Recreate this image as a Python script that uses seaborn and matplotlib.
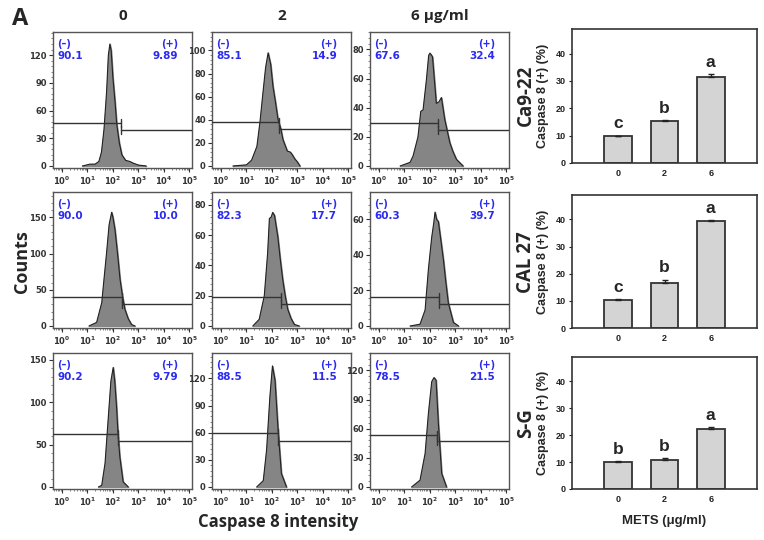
import numpy as np
import pandas as pd
import matplotlib
matplotlib.use("Agg")
import matplotlib.pyplot as plt
from matplotlib.ticker import FixedLocator, AutoMinorLocator
import seaborn as sns

sns.set_theme(style="white")
plt.rcParams['font.family'] = ['DejaVu Sans']

# ---------------- data ----------------
doses = ["0", "2", "6"]
col_titles = ["0", "2", "6 \u03bcg/ml"]
cell_lines = ["Ca9-22", "CAL 27", "S-G"]

# flow histograms: x = log10 intensity, y = counts
ca922_0_x = [0.8, 1.1, 1.3, 1.45, 1.55, 1.65, 1.75, 1.82, 1.88, 1.93, 2.0, 2.08, 2.15, 2.25, 2.35, 2.5, 2.65, 2.8, 3.0, 3.3]
ca922_0_y = [0, 2, 2, 5, 15, 40, 80, 120, 132, 125, 95, 70, 45, 25, 12, 6, 5, 3, 1, 0]
ca922_2_x = [0.47, 1.0, 1.2, 1.41, 1.53, 1.65, 1.75, 1.85, 1.95, 2.04, 2.14, 2.24, 2.35, 2.43, 2.6, 2.72, 2.79, 2.9, 2.98, 3.1]
ca922_2_y = [0, 1, 5, 17, 38, 64, 85, 98, 88, 69, 55, 40, 32, 23, 13, 12, 10, 6, 4, 0]
ca922_6_x = [0.83, 1.22, 1.34, 1.53, 1.64, 1.73, 1.86, 1.95, 2.0, 2.1, 2.25, 2.35, 2.45, 2.58, 2.78, 2.9, 3.04, 3.3]
ca922_6_y = [0, 2.5, 7, 20, 37.5, 38.6, 59, 76, 77.5, 75, 43, 44, 47, 32, 16, 10, 4.5, 0]

cal27_0_x = [1.06, 1.36, 1.56, 1.65, 1.75, 1.85, 1.95, 2.0, 2.08, 2.18, 2.28, 2.38, 2.47, 2.6, 2.73, 2.86]
cal27_0_y = [0, 5, 32, 65, 101, 140, 157, 150, 133, 100, 64, 40, 23, 10, 2, 0]
cal27_2_x = [1.25, 1.5, 1.7, 1.83, 1.9, 1.97, 2.03, 2.1, 2.23, 2.32, 2.42, 2.52, 2.62, 2.75, 2.88, 3.07]
cal27_2_y = [0, 4.4, 20, 48, 71, 72, 75, 73, 59, 45, 31, 20, 11, 5, 1, 0]
cal27_6_x = [1.22, 1.61, 1.81, 1.94, 2.07, 2.15, 2.2, 2.26, 2.33, 2.43, 2.53, 2.62, 2.72, 2.92, 3.12]
cal27_6_y = [0, 1, 9, 32, 50, 58, 64, 60, 58.7, 48, 37, 25, 13, 2, 0]

sg_0_x = [1.43, 1.56, 1.69, 1.82, 1.92, 2.01, 2.07, 2.14, 2.2, 2.27, 2.4, 2.6]
sg_0_y = [0, 2, 28, 83, 125, 141, 125, 95, 62, 35.5, 6, 0]
sg_2_x = [1.4, 1.66, 1.79, 1.92, 2.02, 2.12, 2.24, 2.37, 2.57]
sg_2_y = [0, 7, 41, 100, 133.7, 118, 63, 15, 0]
sg_6_x = [1.28, 1.61, 1.81, 1.94, 2.07, 2.16, 2.24, 2.33, 2.46, 2.65]
sg_6_y = [0, 7, 34.5, 76, 108.6, 112.7, 110, 65.6, 14, 0]

hist_x = [[ca922_0_x, ca922_2_x, ca922_6_x], [cal27_0_x, cal27_2_x, cal27_6_x], [sg_0_x, sg_2_x, sg_6_x]]
hist_y = [[ca922_0_y, ca922_2_y, ca922_6_y], [cal27_0_y, cal27_2_y, cal27_6_y], [sg_0_y, sg_2_y, sg_6_y]]

# gate: position (log10), left level, right level
gate_pos = [[2.32, 2.28, 2.33], [2.34, 2.35, 2.37], [2.2, 2.23, 2.28]]
gate_left = [[47, 38, 29.6], [40, 19, 16.2], [62, 60, 54]]
gate_right = [[39, 31.7, 25], [30, 14.3, 12.1], [54, 50.6, 47]]

neg_pct = [["90.1", "85.1", "67.6"], ["90.0", "82.3", "60.3"], ["90.2", "88.5", "78.5"]]
pos_pct = [["9.89", "14.9", "32.4"], ["10.0", "17.7", "39.7"], ["9.79", "11.5", "21.5"]]

hist_ytop = [[145, 116, 92], [185, 88.5, 75.3], [158, 148, 138]]
hist_ystep = [[30, 20, 20], [50, 20, 20], [50, 30, 30]]

# bar charts
ca922_pct = [9.8, 15.3, 31.6]
ca922_err = [0.25, 0.35, 0.8]
ca922_sig = ["c", "b", "a"]
cal27_pct = [10.3, 16.6, 39.4]
cal27_err = [0.35, 1.2, 0.3]
cal27_sig = ["c", "b", "a"]
sg_pct = [10.0, 10.6, 22.3]
sg_err = [0.25, 0.8, 0.6]
sg_sig = ["b", "b", "a"]
bar_vals = [ca922_pct, cal27_pct, sg_pct]
bar_errs = [ca922_err, cal27_err, sg_err]
bar_sigs = [ca922_sig, cal27_sig, sg_sig]

# ---------------- figure ----------------
W, H = 764, 540
fig = plt.figure(figsize=(W / 100, H / 100), dpi=100)

def fr(left, top, width, height):
    return [left / W, 1 - (top + height) / H, width / W, height / H]

hist_left = [53, 212, 370]
hist_top = [32, 192, 353]
hist_w, hist_h = 139, 136
blue = "#2b2bf0"
xmin, xmax = -0.35, 5.1

major_x = [0, 1, 2, 3, 4, 5]
minor_x = [d + np.log10(k) for d in range(-1, 5) for k in range(2, 10)]
minor_x = [m for m in minor_x if xmin < m < xmax]

for r in range(3):
    for c in range(3):
        ax = fig.add_axes(fr(hist_left[c], hist_top[r], hist_w, hist_h))
        df = pd.DataFrame({"x": hist_x[r][c], "y": hist_y[r][c]})
        ax.fill_between(df["x"], df["y"], color="#858585", zorder=2)
        sns.lineplot(data=df, x="x", y="y", ax=ax, color="#222222", lw=0.8, zorder=3)
        ytop = hist_ytop[r][c]
        ax.set_xlim(xmin, xmax)
        ax.set_ylim(-ytop * 0.015, ytop)
        g = gate_pos[r][c]
        gl, grt = gate_left[r][c], gate_right[r][c]
        tk = ytop * 0.03
        ax.plot([xmin, g], [gl, gl], color="#333333", lw=1.0, zorder=4)
        ax.plot([g, g], [gl - tk, gl + tk], color="#333333", lw=1.0, zorder=4)
        ax.plot([g, xmax], [grt, grt], color="#333333", lw=1.0, zorder=4)
        ax.plot([g, g], [grt - tk, grt + tk], color="#333333", lw=1.0, zorder=4)
        ax.xaxis.set_major_locator(FixedLocator(major_x))
        ax.xaxis.set_minor_locator(FixedLocator(minor_x))
        ax.set_xticklabels([r"$\mathbf{10^{%d}}$" % k for k in major_x])
        step = hist_ystep[r][c]
        ax.yaxis.set_major_locator(FixedLocator(list(np.arange(0, ytop, step))))
        ax.yaxis.set_minor_locator(AutoMinorLocator(5))
        ax.tick_params(axis="both", which="major", direction="out", length=3, width=0.8,
                       labelsize=6, colors="#333333", pad=1.5, bottom=True, left=True)
        ax.tick_params(axis="both", which="minor", direction="out", length=1.5, width=0.5,
                       colors="#555555", bottom=True, left=True)
        for lab in ax.get_yticklabels():
            lab.set_fontweight("bold")
        ax.set_xlabel("")
        ax.set_ylabel("")
        for s in ax.spines.values():
            s.set_color("#555555")
            s.set_linewidth(1.0)
        ax.text(0.03, 0.95, "(\u2013)", transform=ax.transAxes, color=blue, fontsize=7,
                fontweight="bold", ha="left", va="top")
        ax.text(0.03, 0.86, neg_pct[r][c], transform=ax.transAxes, color=blue, fontsize=7.5,
                fontweight="bold", ha="left", va="top")
        ax.text(0.9, 0.95, "(+)", transform=ax.transAxes, color=blue, fontsize=7,
                fontweight="bold", ha="right", va="top")
        ax.text(0.9, 0.86, pos_pct[r][c], transform=ax.transAxes, color=blue, fontsize=7.5,
                fontweight="bold", ha="right", va="top")

# bar charts
bar_top = [29, 195, 357]
bar_hts = [134, 133, 132]
for r in range(3):
    ax = fig.add_axes(fr(572, bar_top[r], 185, bar_hts[r]))
    df = pd.DataFrame({"dose": doses, "pct": bar_vals[r]})
    sns.barplot(data=df, x="dose", y="pct", order=doses, color="#d4d4d4", edgecolor="#333333",
                linewidth=1.3, width=0.6, saturation=1, ax=ax, errorbar=None)
    pos = np.arange(len(doses))
    ax.errorbar(pos, bar_vals[r], yerr=[np.zeros(3), bar_errs[r]], fmt="none",
                ecolor="#222222", elinewidth=1.0, capsize=2, capthick=1.0)
    for i, (v, e, s) in enumerate(zip(bar_vals[r], bar_errs[r], bar_sigs[r])):
        ax.text(i, v + e + 1.6, s, ha="center", va="bottom", fontsize=12.5,
                fontweight="bold", family=["Liberation Sans"])
    ax.set_xlim(-1, 3)
    ax.set_ylim(0, 49)
    ax.set_yticks([0, 10, 20, 30, 40])
    ax.tick_params(axis="both", direction="out", length=2.5, width=0.8, labelsize=6.5,
                   colors="#222222", pad=2, bottom=False, left=True)
    for lab in ax.get_xticklabels() + ax.get_yticklabels():
        lab.set_fontweight("bold")
        lab.set_family(["Liberation Sans"])
    ax.set_ylabel("Caspase 8 (+) (%)", fontsize=9, fontweight="bold",
                  family=["Liberation Sans"], labelpad=5)
    ax.set_xlabel("")
    for s in ax.spines.values():
        s.set_color("#333333")
        s.set_linewidth(1.2)
    if r == 2:
        ax.set_xlabel("METS (\u03bcg/ml)", fontsize=9.5, fontweight="bold",
                      family=["Liberation Sans"], labelpad=8)

# figure texts
big = ["Open Sans", "DejaVu Sans"]
fig.text(20 / W, 1 - 19 / H, "A", fontsize=17, fontweight="bold", family=big, ha="center", va="center")
for c, t in enumerate(col_titles):
    fig.text((hist_left[c] + hist_w / 2) / W, 1 - 16 / H, t, fontsize=11, fontweight="bold",
             family=big, ha="center", va="center")
fig.text(22 / W, 1 - 262 / H, "Counts", fontsize=13, fontweight="bold", family=big,
         rotation=90, ha="center", va="center")
fig.text(278 / W, 1 - 522 / H, "Caspase 8 intensity", fontsize=12, fontweight="bold",
         family=big, ha="center", va="center")
for r, (name, yc) in enumerate(zip(cell_lines, [95, 262, 423])):
    fig.text(526 / W, 1 - yc / H, name, fontsize=13.5, fontweight="bold", family=big,
             rotation=90, ha="center", va="center")

fig.savefig("out.png", dpi=100)
